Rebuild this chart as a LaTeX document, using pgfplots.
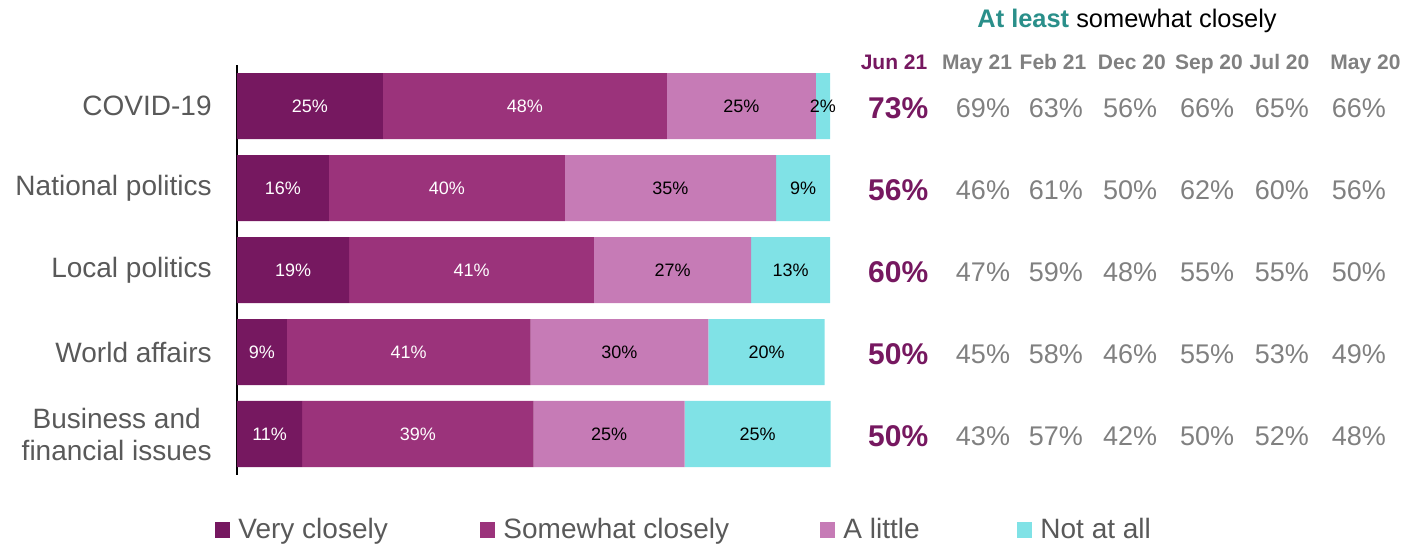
\documentclass[border=0pt]{standalone}
\usepackage{pgfplots}
\pgfplotsset{compat=1.18}
\usepackage{pgfplotstable}
\usepackage{fontspec}
\setmainfont{Liberation Sans}
\definecolor{veryc}{RGB}{118,24,96}
\definecolor{somec}{RGB}{155,51,123}
\definecolor{littlec}{RGB}{198,123,182}
\definecolor{notc}{RGB}{128,226,230}
\definecolor{labgray}{RGB}{89,89,89}
\definecolor{valgray}{RGB}{128,128,128}
\definecolor{tealc}{RGB}{42,143,138}

% bar segments (share of respondents)
\pgfplotstableread{
idx a b c d la lb lc ld
0 24.6 47.9 25.1 2.4 25 48 25 2
1 15.5 39.8 35.6 9.1 16 40 35 9
2 18.9 41.3 26.5 13.3 19 41 27 13
3 8.4 41.1 30.0 19.6 9 41 30 20
4 11.0 39.0 25.5 24.6 11 39 25 25
}\bars

% at least somewhat closely, by wave
\pgfplotstableread{
idx jun21 may21 feb21 dec20 sep20 jul20 may20
0 73 69 63 56 66 65 66
1 56 46 61 50 62 60 56
2 60 47 59 48 55 55 50
3 50 45 58 46 55 53 49
4 50 43 57 42 50 52 48
}\trend

\begin{document}
\begin{tikzpicture}
\begin{axis}[
    scale only axis,
    width=296.5pt, height=205pt,
    at={(118.5pt,34.5pt)}, anchor=south west,
    xbar stacked,
    bar width=33pt,
    xmin=0, xmax=100,
    ymin=-0.5, ymax=4.5,
    y dir=reverse,
    axis x line=none,
    axis y line*=left,
    y axis line style={black, line width=1pt},
    ytick={0,1,2,3,4},
    yticklabels={COVID-19, National politics, Local politics, World affairs, {Business and\\financial issues}},
    yticklabel style={font=\fontsize{14}{16}\selectfont, text=labgray, align=center, inner sep=0pt, xshift=-12.5pt},
    major tick length=0pt,
    legend columns=4,
    legend style={draw=none, fill=none, inner sep=0pt, at={(-0.037,-0.134)}, anchor=west,
        nodes={inner sep=0pt, font=\fontsize{14}{16}\selectfont, text=labgray}},
    legend image code/.code={\fill[#1] (0pt,-4pt) rectangle (7.5pt,4pt);},
    clip=false,
]
\addplot[fill=veryc, draw=none] table[x=a, y=idx] {\bars};
\addlegendentry{\hspace{4pt}\makebox[121pt][l]{Very closely}}
\addplot[fill=somec, draw=none] table[x=b, y=idx] {\bars};
\addlegendentry{\hspace{4pt}\makebox[158.5pt][l]{Somewhat closely}}
\addplot[fill=littlec, draw=none] table[x=c, y=idx] {\bars};
\addlegendentry{\hspace{4pt}\makebox[87pt][l]{A little}}
\addplot[fill=notc, draw=none] table[x=d, y=idx] {\bars};
\addlegendentry{\hspace{4pt}Not at all}
\end{axis}

\begin{axis}[
    scale only axis,
    width=296.5pt, height=205pt,
    at={(118.5pt,34.5pt)}, anchor=south west,
    xmin=0, xmax=100,
    ymin=-0.5, ymax=4.5,
    y dir=reverse,
    hide axis,
    clip=false,
    point meta=explicit symbolic,
    nodes near coords={\pgfplotspointmeta\%},
    every node near coord/.append style={anchor=center, inner sep=0pt},
]
% segment labels
\addplot[draw=none, mark=none, every node near coord/.append style={text=white, font=\fontsize{9}{10}\selectfont}]
    table[x expr=\thisrow{a}/2, y=idx, meta=la] {\bars};
\addplot[draw=none, mark=none, every node near coord/.append style={text=white, font=\fontsize{9}{10}\selectfont}]
    table[x expr=\thisrow{a}+\thisrow{b}/2, y=idx, meta=lb] {\bars};
\addplot[draw=none, mark=none, every node near coord/.append style={text=black, font=\fontsize{9}{10}\selectfont}]
    table[x expr=\thisrow{a}+\thisrow{b}+\thisrow{c}/2, y=idx, meta=lc] {\bars};
\addplot[draw=none, mark=none, every node near coord/.append style={text=black, font=\fontsize{9}{10}\selectfont}]
    table[x expr=\thisrow{a}+\thisrow{b}+\thisrow{c}+\thisrow{d}/2, y=idx, meta=ld] {\bars};

% trend columns
\addplot[draw=none, mark=none, every node near coord/.append style={text=veryc, yshift=-1pt, font=\bfseries\fontsize{15}{17}\selectfont}]
    table[x expr=111.5, y=idx, meta=jun21] {\trend};
\addplot[draw=none, mark=none, every node near coord/.append style={text=valgray, yshift=-1pt, font=\fontsize{13.5}{15}\selectfont}]
    table[x expr=125.8, y=idx, meta=may21] {\trend};
\addplot[draw=none, mark=none, every node near coord/.append style={text=valgray, yshift=-1pt, font=\fontsize{13.5}{15}\selectfont}]
    table[x expr=138.1, y=idx, meta=feb21] {\trend};
\addplot[draw=none, mark=none, every node near coord/.append style={text=valgray, yshift=-1pt, font=\fontsize{13.5}{15}\selectfont}]
    table[x expr=150.6, y=idx, meta=dec20] {\trend};
\addplot[draw=none, mark=none, every node near coord/.append style={text=valgray, yshift=-1pt, font=\fontsize{13.5}{15}\selectfont}]
    table[x expr=163.6, y=idx, meta=sep20] {\trend};
\addplot[draw=none, mark=none, every node near coord/.append style={text=valgray, yshift=-1pt, font=\fontsize{13.5}{15}\selectfont}]
    table[x expr=176.2, y=idx, meta=jul20] {\trend};
\addplot[draw=none, mark=none, every node near coord/.append style={text=valgray, yshift=-1pt, font=\fontsize{13.5}{15}\selectfont}]
    table[x expr=189.2, y=idx, meta=may20] {\trend};

% headers
\node[anchor=base, inner sep=0pt, font=\fontsize{12.7}{14}\selectfont] at (axis cs:150.1,-0.963) {\textcolor{tealc}{\bfseries At least} somewhat closely};
\node[anchor=base, inner sep=0pt, font=\bfseries\fontsize{10.5}{12}\selectfont, text=veryc] at (axis cs:110.8,-0.45) {Jun 21};
\begin{scope}[every node/.style={anchor=base, inner sep=0pt, font=\bfseries\fontsize{10.5}{12}\selectfont, text=valgray}]
\node at (axis cs:124.8,-0.45) {May 21};
\node at (axis cs:137.6,-0.45) {Feb 21};
\node at (axis cs:150.9,-0.45) {Dec 20};
\node at (axis cs:163.9,-0.45) {Sep 20};
\node at (axis cs:175.8,-0.45) {Jul 20};
\node at (axis cs:190.3,-0.45) {May 20};
\end{scope}
\end{axis}
\pgfresetboundingbox
\useasboundingbox (0,0) rectangle (709pt,272pt);
\end{tikzpicture}
\end{document}
